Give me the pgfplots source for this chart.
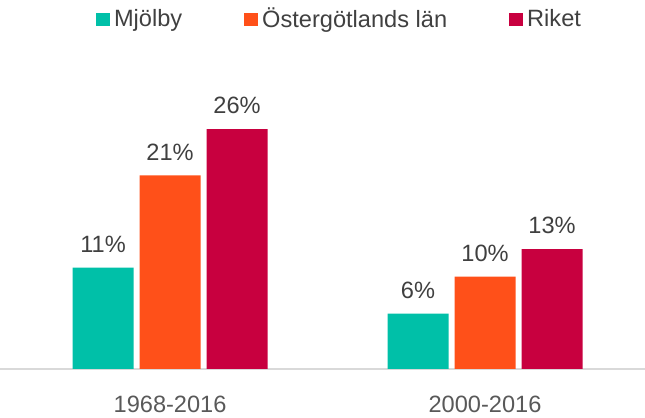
\documentclass[border=0pt]{standalone}
\usepackage{pgfplots}
\pgfplotsset{compat=1.18}
\usepackage{fontspec}
\setmainfont{Liberation Sans}
\definecolor{teal1}{HTML}{00C0A8}
\definecolor{orange1}{HTML}{FF5019}
\definecolor{crim}{HTML}{C8003F}
\definecolor{txt}{HTML}{404040}
\definecolor{tick}{HTML}{595959}
\definecolor{axline}{HTML}{D9D9D9}
\begin{document}
\begin{tikzpicture}
\useasboundingbox (0,-24.5pt) rectangle (322.5pt,184.5pt);
\begin{axis}[
    at={(0,0)}, anchor=south west,
    scale only axis,
    width=322.5pt, height=155pt,
    ybar, bar width=30.5pt,
    xmin=-0.54, xmax=1.508,
    ymin=0, ymax=33.6,
    xtick={0,1}, xticklabels={1968-2016,2000-2016},
    ytick=\empty,
    axis y line=none,
    axis x line*=bottom,
    x axis line style={axline, line width=1pt, -},
    major tick length=0pt,
    xticklabel style={font=\fontsize{11.8}{14}\selectfont, text=tick, yshift=-10pt},
    /pgf/number format/assume math mode=true,
    nodes near coords={\pgfmathprintnumber{\pgfplotspointmeta}\%},
    every node near coord/.append style={font=\fontsize{11.8}{14}\selectfont, text=txt, yshift=4pt},
    legend style={
        at={(0.5,1.0)}, anchor=south, yshift=12pt, xshift=9pt,
        draw=none, fill=none, legend columns=-1,
        font=\fontsize{11.8}{14}\selectfont, text=txt,
        nodes={inner xsep=2pt},
        /tikz/every even column/.append style={column sep=29pt},
        inner sep=0pt,
    },
    legend image code/.code={\fill[#1] (0pt,-3.3pt) rectangle (7pt,3.3pt);},
]
\addplot[draw=none, fill=teal1, bar shift=-33.5pt] coordinates {(0,11) (1,6)};
\addplot[draw=none, fill=orange1, bar shift=0pt] coordinates {(0,21) (1,10)};
\addplot[draw=none, fill=crim, bar shift=33.5pt] coordinates {(0,26) (1,13)};
\legend{Mjölby, Östergötlands län, Riket}
\end{axis}
\end{tikzpicture}
\end{document}
